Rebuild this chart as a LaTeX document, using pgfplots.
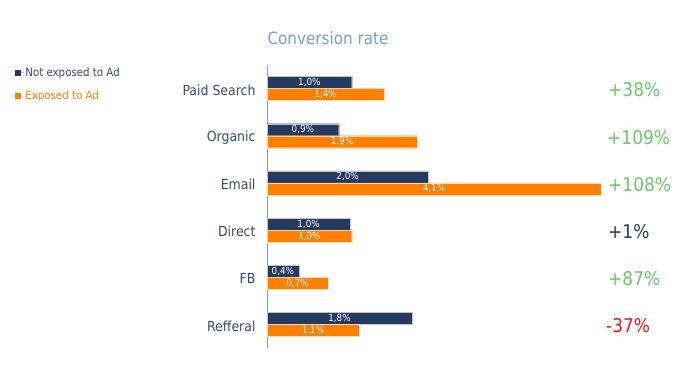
\documentclass[border=0pt]{standalone}
\usepackage{pgfplots}
\pgfplotsset{compat=1.18}
\usepackage{pgfplotstable}
\usepackage{fontspec}
\setmainfont{DejaVu Sans Condensed}
\definecolor{barnavy}{HTML}{253A5E}
\definecolor{barorange}{HTML}{FF8000}
\definecolor{catcol}{HTML}{3B4A68}
\definecolor{titlecol}{HTML}{7C9DD0}
\definecolor{pgreen}{HTML}{6CC96C}
\definecolor{pred}{HTML}{FF1010}
\definecolor{axcol}{HTML}{8A96AC}
\pgfplotstableread{
row ne nelab e elab
0 1.04 1.0 1.44 1.4
1 0.88 0.9 1.84 1.9
2 1.98 2.0 4.10 4.1
3 1.02 1.0 1.04 1.0
4 0.39 0.4 0.75 0.7
5 1.78 1.8 1.13 1.1
}\data
\begin{document}
\begin{tikzpicture}
\path[use as bounding box] (0,0) rectangle (700pt,371pt);
\begin{axis}[
  at={(267pt,23pt)}, anchor=south west,
  scale only axis, width=334pt, height=283pt,
  xmin=0, xmax=4.1, ymin=-0.5, ymax=5.5, y dir=reverse,
  hide x axis,
  axis y line*=left,
  y axis line style={axcol, line width=0.8pt},
  ytick={0,1,2,3,4,5},
  yticklabels={Paid Search, Organic, Email, Direct, FB, Refferal},
  major tick length=0pt,
  yticklabel style={font=\fontsize{13.9}{16}\selectfont, text=catcol, xshift=-8pt, yshift=-1.5pt},
  clip=false,
  point meta=explicit,
  /pgf/number format/assume math mode=true,
  legend style={at={(axis description cs:-0.755,0.997)}, anchor=north west, draw=none, fill=none,
    font=\fontsize{11.4}{13}\selectfont, row sep=10pt, inner sep=0pt, nodes={inner sep=1.5pt}},
  legend cell align=left,
]
\addplot[xbar, bar width=12pt, bar shift=6pt, fill=barnavy, draw=white!70!barnavy, line width=0.3pt,
  legend image code/.code={\path (0pt,0pt) -- (8.5pt,0pt); \fill[barnavy] (0pt,-2.6pt) rectangle (5.2pt,2.6pt);}]
  table[x=ne, y=row] {\data};
\addlegendentry{\textcolor{catcol}{Not exposed to Ad}}
\addplot[xbar, bar width=12pt, bar shift=-6pt, fill=barorange, draw=white!70!barorange, line width=0.3pt,
  legend image code/.code={\path (0pt,0pt) -- (8.5pt,0pt); \fill[barorange] (0pt,-2.6pt) rectangle (5.2pt,2.6pt);}]
  table[x=e, y=row] {\data};
\addlegendentry{\textcolor{barorange}{Exposed to Ad}}
\addplot[forget plot, only marks, mark=none,
  nodes near coords={\pgfmathprintnumber[fixed,fixed zerofill,precision=1,use comma]{\pgfplotspointmeta}\%},
  every node near coord/.style={anchor=center, text=white, font=\fontsize{9.8}{11}\selectfont, yshift=6pt, inner sep=0pt}]
  table[x expr=\thisrow{ne}/2, y=row, meta=nelab] {\data};
\addplot[forget plot, only marks, mark=none,
  nodes near coords={\pgfmathprintnumber[fixed,fixed zerofill,precision=1,use comma]{\pgfplotspointmeta}\%},
  every node near coord/.style={anchor=center, text=white, font=\fontsize{9.8}{11}\selectfont, yshift=-6pt, inner sep=0pt}]
  table[x expr=\thisrow{e}/2, y=row, meta=elab] {\data};
\begin{scope}[every node/.style={anchor=west, font=\fontsize{18.9}{22}\selectfont, inner sep=0pt, yshift=-1.5pt}]
\node[text=pgreen] at (axis cs:4.1,0) [xshift=7pt] {+38\%};
\node[text=pgreen] at (axis cs:4.1,1) [xshift=6pt] {+109\%};
\node[text=pgreen] at (axis cs:4.1,2) [xshift=7pt] {+108\%};
\node[text=barnavy] at (axis cs:4.1,3) [xshift=7pt] {+1\%};
\node[text=pgreen] at (axis cs:4.1,4) [xshift=7pt] {+87\%};
\node[text=pred] at (axis cs:4.1,5) [xshift=5pt] {-37\%};
\end{scope}
\end{axis}
\node[text=titlecol, font=\fontsize{16.9}{20}\selectfont, inner sep=0pt] at (328pt,333pt) {Conversion rate};
\end{tikzpicture}
\end{document}
